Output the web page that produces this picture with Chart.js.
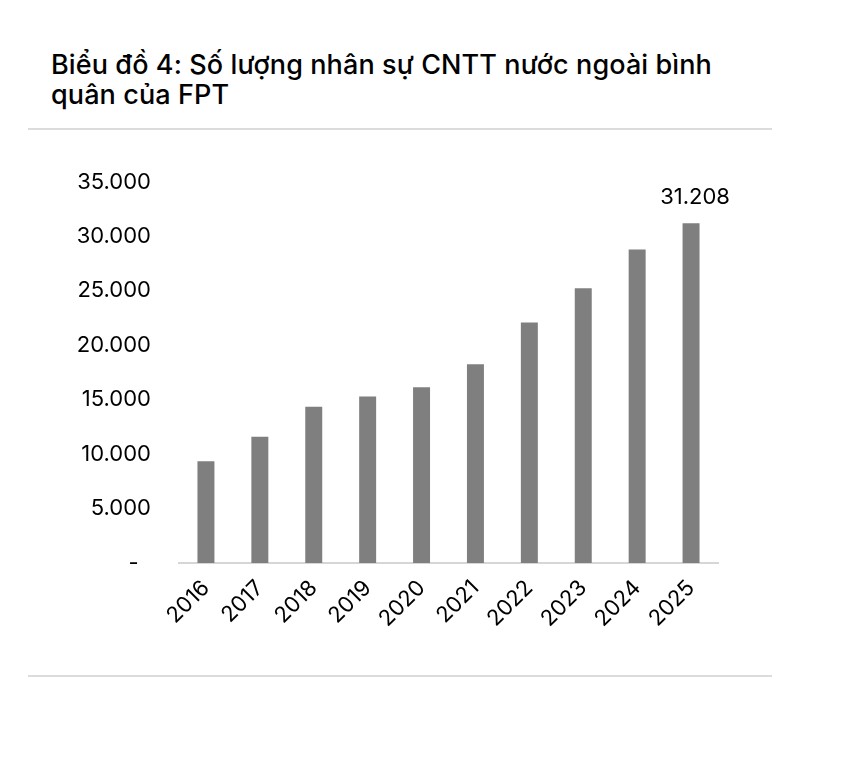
<!DOCTYPE html>
<html>
<head>
<meta charset="utf-8">
<script src="https://cdn.jsdelivr.net/npm/chart.js@4.4.1/dist/chart.umd.min.js"></script>
<style>
  html, body { margin: 0; padding: 0; background: #fff; }
  body { width: 850px; height: 764px; position: relative; overflow: hidden; font-family: Inter, "Liberation Sans", Arial, sans-serif; }
  #title { position: absolute; left: 51px; top: 50px; font-size: 27px; font-weight: 500; line-height: 30px; color: #000; letter-spacing: 0.1px; }
  .rule { position: absolute; left: 28px; width: 744px; height: 2px; background: #dcdcdc; }
  #wrap { position: absolute; left: 0; top: 140px; width: 850px; height: 520px; }
</style>
</head>
<body>
<div id="title">Biểu đồ 4: Số lượng nhân sự CNTT nước ngoài bình<br>quân của FPT</div>
<div class="rule" style="top:128px"></div>
<div class="rule" style="top:675px"></div>
<div id="wrap"><canvas id="c" width="850" height="520"></canvas></div>
<script>
const years = ["2016","2017","2018","2019","2020","2021","2022","2023","2024","2025"];
const staff = [9350, 11600, 14350, 15300, 16150, 18250, 22100, 25250, 28800, 31208];
const yTicks = [0, 5000, 10000, 15000, 20000, 25000, 30000, 35000];
const labelledIndex = [9];
const FONT = 'Inter, "Liberation Sans", Arial, sans-serif';

function fmt(v) {
  return String(Math.round(v)).replace(/\B(?=(\d{3})+(?!\d))/g, ".");
}

const lastLabel = {
  id: 'lastLabel',
  afterDatasetsDraw(chart) {
    const ctx = chart.ctx;
    const meta = chart.getDatasetMeta(0);
    ctx.save();
    ctx.font = '22px ' + FONT;
    ctx.fillStyle = '#000';
    ctx.textAlign = 'center';
    ctx.textBaseline = 'bottom';
    labelledIndex.forEach(i => {
      const el = meta.data[i];
      ctx.fillText(fmt(staff[i]), el.x + 4, el.y - 15);
    });
    ctx.restore();
  }
};

new Chart(document.getElementById('c'), {
  type: 'bar',
  data: {
    labels: years,
    datasets: [{
      data: staff,
      backgroundColor: '#7f7f7f',
      borderWidth: 0,
      barPercentage: 0.315,
      categoryPercentage: 1.0
    }]
  },
  options: {
    responsive: false,
    animation: false,
    devicePixelRatio: 1,
    layout: { padding: { left: 0, right: 132, top: 42, bottom: 0 } },
    plugins: { legend: { display: false }, tooltip: { enabled: false }, title: { display: false } },
    scales: {
      x: {
        grid: { display: false, drawTicks: false },
        border: { display: true, color: '#d6d6d6', width: 2 },
        ticks: {
          color: '#000',
          font: { family: FONT, size: 22 },
          maxRotation: 45, minRotation: 45,
          padding: 12
        },
        afterFit(s) { s.height = 97; }
      },
      y: {
        min: 0, max: 35000,
        grid: { display: false, drawTicks: false },
        border: { display: false },
        afterBuildTicks(s) { s.ticks = yTicks.map(v => ({ value: v })); },
        ticks: {
          color: '#000',
          font: { family: FONT, size: 22 },
          padding: 28,
          callback: (v) => v === 0 ? '-  ' : fmt(v)
        },
        afterFit(s) { s.width = 179; }
      }
    }
  },
  plugins: [lastLabel]
});
</script>
</body>
</html>
